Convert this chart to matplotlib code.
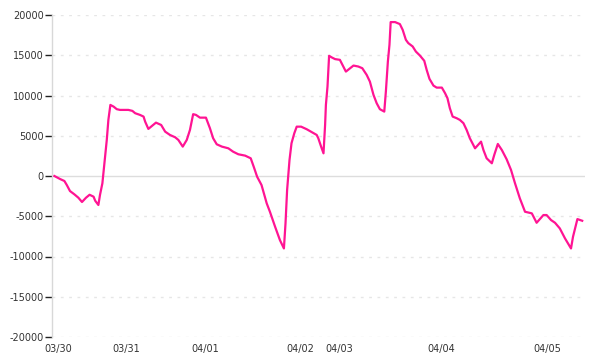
import matplotlib
matplotlib.use("Agg")
import matplotlib.pyplot as plt

# sample position (index along the series) and value
pos = [0.0, 1.4, 2.5, 3.1, 3.9, 5.0, 6.0, 6.9, 7.9, 8.8, 9.8, 10.2, 11.0, 11.4,
       12.0, 12.5, 13.1, 13.5, 14.0, 14.8, 15.6, 16.4, 18.5, 19.5, 20.2, 21.4,
       22.3, 22.7, 23.5, 25.4, 26.7, 27.7, 28.9, 30.2, 31.0, 32.1, 33.1, 33.9,
       34.7, 35.4, 36.4, 37.9, 38.9, 39.7, 40.6, 41.9, 43.5, 44.7, 46.0, 47.7,
       49.1, 49.9, 50.7, 51.8, 53.1, 53.9, 55.2, 56.4, 57.4, 57.8, 58.2, 58.8,
       59.3, 60.0, 60.6, 61.7, 63.1, 64.3, 65.6, 66.0, 66.7, 67.3, 67.7, 67.9,
       68.3, 68.7, 69.4, 70.2, 71.4, 72.9, 74.8, 76.0, 77.0, 78.1, 78.9, 79.8,
       80.6, 81.4, 82.5, 82.9, 83.4, 83.8, 84.1, 85.2, 86.4, 87.1, 87.9, 88.5,
       89.6, 90.4, 91.4, 92.5, 93.1, 93.8, 94.8, 95.6, 96.9, 97.7, 98.3, 98.9,
       99.6, 100.6, 101.4, 102.3, 103.1, 103.9, 105.2, 106.7, 107.3, 108.1,
       109.4, 110.0, 110.9, 111.9, 113.1, 114.2, 115.2, 116.4, 117.7, 119.4,
       120.6, 122.3, 123.1, 124.2, 125.2, 126.4, 127.7, 129.2, 129.7, 130.8,
       132.0]
values = [0, -370, -620, -1120, -1870, -2280, -2700, -3230, -2700, -2330, -2570,
          -3070, -3600, -2360, -910, 1580, 4480, 6970, 8830, 8620, 8300, 8210,
          8210, 8090, 7800, 7590, 7380, 6750, 5850, 6630, 6340, 5510, 5100, 4810,
          4480, 3650, 4480, 5720, 7680, 7590, 7250, 7250, 5930, 4690, 3940, 3650,
          3440, 3020, 2700, 2530, 2200, 1080, -90, -1120, -3400, -4440, -6310,
          -7960, -9000, -5880, -1740, 1990, 4070, 5310, 6130, 6130, 5810, 5470,
          5100, 4690, 3650, 2820, 6340, 8830, 11110, 14930, 14720, 14520, 14430,
          12970, 13720, 13600, 13390, 12560, 11730, 10080, 9040, 8300, 8000,
          10490, 14220, 16300, 19120, 19120, 18870, 18160, 16920, 16510, 16090,
          15460, 14970, 14310, 13190, 12070, 11230, 10980, 10980, 10290, 9670,
          8420, 7380, 7180, 6970, 6560, 5720, 4690, 3440, 4270, 3230, 2200, 1580,
          2610, 3980, 3230, 2080, 750, -910, -2770, -4440, -4640, -5810, -4850,
          -4850, -5470, -5810, -6510, -7750, -9000, -7550, -5350, -5560]

tick_pos = [1.05, 18.05, 37.8, 61.55, 71.3, 96.8, 123.3]
tick_labels = ["03/30", "03/31", "04/01", "04/02", "04/03", "04/04", "04/05"]
y_ticks = [20000, 15000, 10000, 5000, 0, -5000, -10000, -15000, -20000]

fig = plt.figure(figsize=(6, 3.6), dpi=100)
ax = fig.add_axes([52 / 600, 1 - 337 / 360, 533 / 600, 322 / 360])

for yv in y_ticks:
    if yv == 0:
        ax.axhline(yv, color="#dddddd", lw=1, zorder=1)
    else:
        ax.axhline(yv, color="#e6e6e6", lw=1, ls=(0, (2, 4)), zorder=1)

ax.plot(pos, values, color="#ff1493", lw=1.6, zorder=3)

ax.set_xlim(-0.6, 132.7)
ax.set_ylim(-20000, 20000)
ax.set_yticks(y_ticks)
ax.set_yticklabels([str(v) for v in y_ticks])
ax.set_xticks(tick_pos)
ax.set_xticklabels(tick_labels)

for s in ["top", "right", "bottom"]:
    ax.spines[s].set_visible(False)
ax.spines["left"].set_color("#d8d8d8")
ax.spines["left"].set_linewidth(1)

ax.tick_params(axis="y", length=5, width=1, color="#222222", pad=1,
               labelsize=7, labelcolor="#333333")
ax.tick_params(axis="x", length=0, pad=5, labelsize=7, labelcolor="#333333")

fig.savefig("out.png", dpi=100)
